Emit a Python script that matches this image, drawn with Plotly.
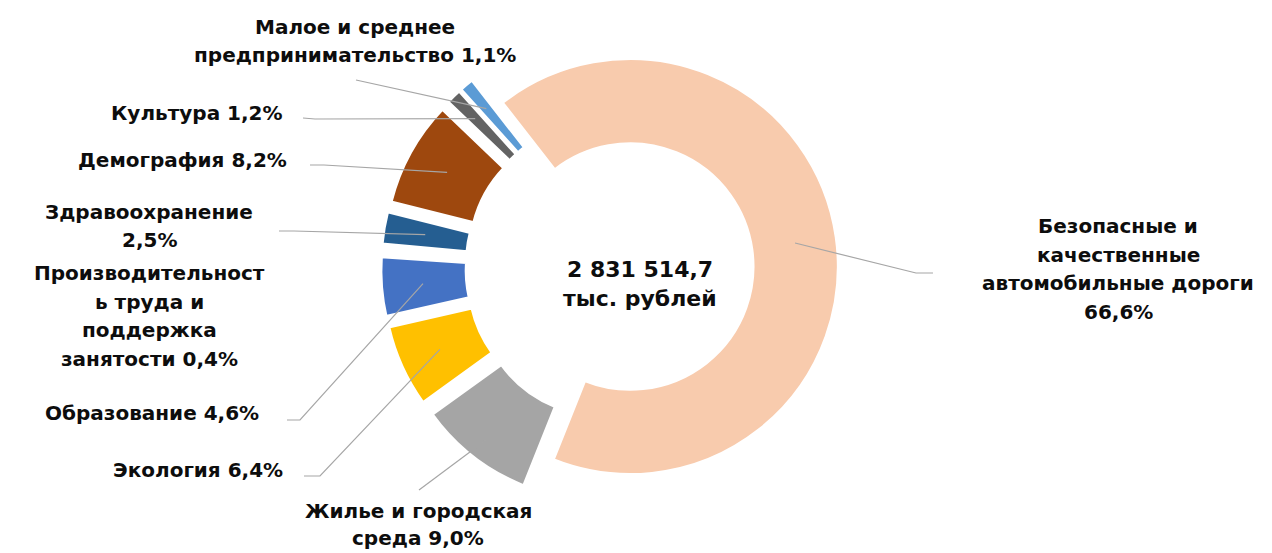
import math
import plotly.graph_objects as go

# ---------------- data ----------------
categories = [
    "Безопасные и качественные автомобильные дороги",
    "Жилье и городская среда",
    "Экология",
    "Образование",
    "Производительность труда и поддержка занятости",
    "Здравоохранение",
    "Демография",
    "Культура",
    "Малое и среднее предпринимательство",
]
shares = [66.6, 9.0, 6.4, 4.6, 0.4, 2.5, 8.2, 1.2, 1.1]
label_wraps = [
    "Безопасные и|качественные|автомобильные дороги|{v}",
    "Жилье и городская|среда {v}",
    "Экология {v}",
    "Образование {v}",
    "Производительност|ь труда и|поддержка|занятости {v}",
    "Здравоохранение|{v}",
    "Демография {v}",
    "Культура {v}",
    "Малое и среднее|предпринимательство {v}",
]
total_value = "2 831 514,7"
total_unit = "тыс. рублей"

# ---------------- style / layout ----------------
W, H = 1272, 553
colors = ["#F8CBAD", "#A5A5A5", "#FFC000", "#4472C4", "rgba(255,255,255,0)",
          "#255E91", "#9E480E", "#636363", "#5B9BD5"]
pulls = [0.05, 0.15, 0.15, 0.15, 0.15, 0.15, 0.15, 0.15, 0.15]
CX, CY, R, HOLE, ROT = 612, 260, 208, 0.59, -38

# label placement: (center x, first line y) in px
label_pos = [(1110, 218), (410, 503), (190, 462), (144, 405), (141, 265),
             (141, 204), (174, 152), (189, 105), (347, 19)]
LINE_STEP = 28.5
# leader line start points (px) ; None = no leader
leader_start = [((925, 265), (908, 265)), ((411, 482), None), ((296, 468), (312, 468)),
                ((279, 412), (292, 412)), None, ((271, 223), (286, 223)),
                ((302, 157), (316, 157)), ((295, 110), (307, 111)), ((348, 72), None)]
leader_frac = [0.8, 0.9, 0.8, 0.8, 0.8, 0.8, 0.8, 0.85, 0.85]

maxpull = max(pulls)
box = 2 * R * (1 + maxpull)
dom_x = [(CX - box / 2) / W, (CX + box / 2) / W]
dom_y = [1 - (CY + box / 2) / H, 1 - (CY - box / 2) / H]

fig = go.Figure(go.Pie(
    values=shares, labels=categories, sort=False, direction="clockwise",
    rotation=ROT, hole=HOLE, pull=pulls,
    marker=dict(colors=colors, line=dict(color="white", width=3)),
    textinfo="none", hoverinfo="label+percent", showlegend=False,
    domain=dict(x=dom_x, y=dom_y),
))

def px(x, y):
    return x / W, 1 - y / H

annotations = []
shapes = []
total = sum(shares)
cum = 0.0
font = dict(family="DejaVu Sans", size=20, color="#0d0d0d", weight=700)
for i, (cat, v) in enumerate(zip(categories, shares)):
    a0 = ROT + cum / total * 360
    cum += v
    mid = math.radians(a0 + v / total * 180)
    vtxt = f"{v:.1f}".replace(".", ",") + "%"
    lines = label_wraps[i].format(v=vtxt).split("|")
    lx, ly = label_pos[i]
    step = LINE_STEP if len(lines) < 2 or i != 1 else 27
    for k, ln in enumerate(lines):
        x, y = px(lx, ly + k * step)
        annotations.append(dict(x=x, y=y, xref="paper", yref="paper", text=ln,
                                showarrow=False, xanchor="center", yanchor="middle",
                                font=font))
    ls = leader_start[i]
    if ls is not None:
        d = R * (pulls[i] + leader_frac[i])
        ex, ey = CX + d * math.sin(mid), CY - d * math.cos(mid)
        pts = [ls[0]] + ([ls[1]] if ls[1] else []) + [(ex, ey)]
        path = ""
        for j, (a, b) in enumerate(pts):
            xx, yy = px(a, b)
            path += ("M" if j == 0 else " L") + f" {xx:.5f} {yy:.5f}"
        shapes.append(dict(type="path", path=path, xref="paper", yref="paper",
                           line=dict(color="#A6A6A6", width=1.2)))

cfont = dict(family="DejaVu Sans", size=22, color="#0d0d0d", weight=700)
for k, t in enumerate([total_value, total_unit]):
    x, y = px(632, 261 + k * 29)
    annotations.append(dict(x=x, y=y, xref="paper", yref="paper", text=t,
                            showarrow=False, xanchor="center", yanchor="middle",
                            font=cfont))

fig.update_layout(
    width=W, height=H, margin=dict(l=0, r=0, t=0, b=0),
    paper_bgcolor="white", plot_bgcolor="white",
    annotations=annotations, shapes=shapes, showlegend=False,
)
fig.write_html("out.html")
